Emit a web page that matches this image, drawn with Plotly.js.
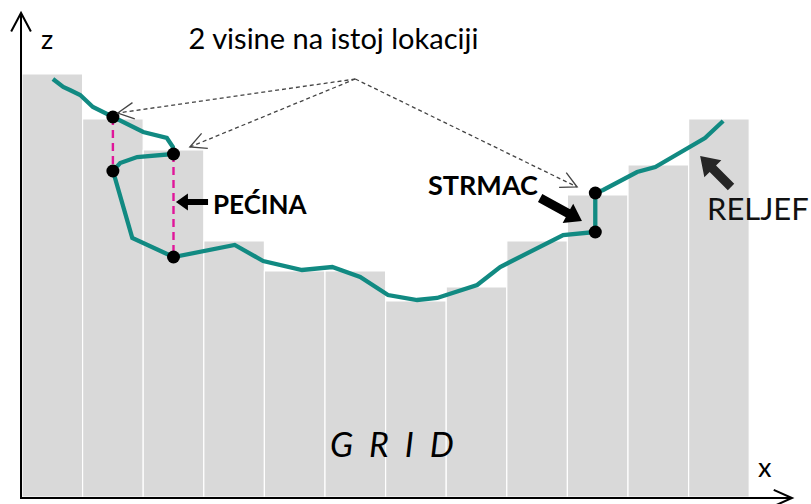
<!DOCTYPE html>
<html><head><meta charset="utf-8">
<script src="https://cdn.plot.ly/plotly-3.0.1.min.js"></script>
<style>html,body{margin:0;padding:0;background:#fff}#chart{width:811px;height:504px}</style>
</head><body><div id="chart"></div>
<script>
// ---- data (grid columns, units: x = cell index, z = height) ----
const gridCells   = [0.5, 1.5, 2.5, 3.5, 4.5, 5.5, 6.5, 7.5, 8.5, 9.5, 10.5, 11.5];
const gridHeights = [42.3, 37.8, 34.7, 25.6, 22.6, 22.6, 19.6, 21.0, 25.6, 30.2, 33.2, 37.8];

// terrain profile (relief), traced in order, including the overhang (cave) and cliff
const reliefX = [0.51, 0.68, 0.79, 0.96, 1.17, 1.50, 2.00, 2.39, 2.49, 2.50, 1.90, 1.62, 1.50, 1.53, 1.82, 2.50,
                 3.51, 3.98, 4.62, 5.12, 5.58, 6.04, 6.52, 6.85, 7.51, 7.89, 8.93, 9.46, 9.46, 9.59, 10.15, 10.45, 11.27, 11.57];
const reliefZ = [41.8, 41.0, 40.7, 40.2, 39.0, 38.0, 36.5, 35.9, 35.0, 34.3, 34.0, 33.4, 32.6, 32.0, 25.9, 24.0,
                 25.2, 23.6, 22.7, 23.0, 22.0, 20.2, 19.7, 19.9, 21.2, 23.0, 26.2, 26.5, 30.4, 30.7, 32.5, 33.0, 35.9, 37.6];

// profile vertices marked with dots, and the pairs sharing one location (cave)
const markedIdx = [5, 9, 12, 15, 27, 28];
const caveTop    = [5, 9];
const caveBottom = [12, 15];

// labels
const titleText  = '2 visine na istoj lokaciji';
const caveLabel  = 'PEĆINA';
const cliffLabel = 'STRMAC';
const reliefLabel = 'RELJEF';
const gridLabel  = 'G  R  I  D';
const zLabel = 'z';
const xLabel = 'x';

// ---- layout geometry ----
const W = 811, H = 504;
const M = {l: 22, r: 19, t: 13, b: 7};
const PW = W - M.l - M.r, PH = H - M.t - M.b;
const xMax = 12.706, zMax = 48.4;
const pxU = PW / xMax, pxZ = PH / zMax;
const toPx = (u, z) => [M.l + u * pxU, M.t + (zMax - z) * pxZ];
const pxToPaper = (p) => [(p[0] - M.l) / PW, (H - M.b - p[1]) / PH];
const fmt = (p) => { const q = pxToPaper(p); return q[0].toFixed(5) + ',' + q[1].toFixed(5); };

function chevron(tip, from, len, angDeg) {
  const a = toPx(tip[0], tip[1]), b = toPx(from[0], from[1]);
  let dx = b[0] - a[0], dy = b[1] - a[1]; const n = Math.hypot(dx, dy); dx /= n; dy /= n;
  const t = angDeg * Math.PI / 180;
  const r = (c, s) => [a[0] + len * (dx * c - dy * s), a[1] + len * (dx * s + dy * c)];
  const p1 = r(Math.cos(t), Math.sin(t)), p2 = r(Math.cos(t), -Math.sin(t));
  return 'M' + fmt(p1) + 'L' + fmt(a) + 'L' + fmt(p2);
}
function thickArrow(tip, tail, shaftW, headL, headW) {
  const a = toPx(tip[0], tip[1]), b = toPx(tail[0], tail[1]);
  let dx = a[0] - b[0], dy = a[1] - b[1]; const n = Math.hypot(dx, dy); dx /= n; dy /= n;
  const nx = -dy, ny = dx;
  const base = [a[0] - dx * headL, a[1] - dy * headL];
  const P = (p, k) => [p[0] + nx * k, p[1] + ny * k];
  const pts = [P(b, shaftW / 2), P(base, shaftW / 2), P(base, headW / 2), a, P(base, -headW / 2), P(base, -shaftW / 2), P(b, -shaftW / 2)];
  return 'M' + pts.map(fmt).join('L') + 'Z';
}
function pLine(from, to) {
  const a = pxToPaper(toPx(from[0], from[1])), b = pxToPaper(toPx(to[0], to[1]));
  return {type: 'line', xref: 'paper', yref: 'paper', x0: a[0], y0: a[1], x1: b[0], y1: b[1],
          line: {color: '#444444', width: 1.3, dash: '4px,3px'}};
}

// annotation anchors (data units)
const pointerFrom = [5.50, 41.8];
const pointerTips = [[1.58, 38.4], [2.77, 35.0], [9.16, 31.0]];

const traces = [
  {type: 'bar', x: gridCells, y: gridHeights, width: 1,
   marker: {color: '#d9d9d9', line: {color: '#ffffff', width: 1.2}}, hoverinfo: 'skip'},
];
caveTop.forEach((ti, k) => {
  const bi = caveBottom[k];
  traces.push({type: 'scatter', mode: 'lines', x: [reliefX[ti], reliefX[bi]], y: [reliefZ[ti], reliefZ[bi]],
    line: {color: '#e0169a', width: 2.4, dash: '8px,5px'}, hoverinfo: 'skip'});
});
traces.push({type: 'scatter', mode: 'lines', x: reliefX, y: reliefZ,
  line: {color: '#118a82', width: 4.3}, hoverinfo: 'skip'});
traces.push({type: 'scatter', mode: 'markers', x: markedIdx.map(i => reliefX[i]), y: markedIdx.map(i => reliefZ[i]),
  marker: {color: '#000', size: 13}, hoverinfo: 'skip'});

const shapes = [];
pointerTips.forEach(t => {
  shapes.push(pLine(pointerFrom, t));
  shapes.push({type: 'path', xref: 'paper', yref: 'paper', path: chevron(t, pointerFrom, 18, 27),
    line: {color: '#444444', width: 1.3}});
});
// axis arrowheads
shapes.push({type: 'path', xref: 'paper', yref: 'paper', path: chevron([-0.016, zMax + 0.0], [-0.016, 0], 21, 28),
  line: {color: '#000', width: 2}});
shapes.push({type: 'path', xref: 'paper', yref: 'paper', path: chevron([xMax, -0.1], [0, -0.1], 20, 24),
  line: {color: '#000', width: 2}});
// thick black arrows
shapes.push({type: 'path', xref: 'paper', yref: 'paper', path: thickArrow([2.54, 29.5], [3.07, 29.5], 6, 12, 17),
  fillcolor: '#000', line: {width: 0}});
shapes.push({type: 'path', xref: 'paper', yref: 'paper', path: thickArrow([9.24, 27.6], [8.55, 29.9], 9, 16, 22),
  fillcolor: '#000', line: {width: 0}});
shapes.push({type: 'path', xref: 'paper', yref: 'paper', path: thickArrow([11.19, 34.1], [11.70, 31.0], 9, 18, 24),
  fillcolor: '#262626', line: {width: 0}});

const F = 'Lato, "Open Sans", sans-serif';
const ann = (x, y, text, size, extra) => Object.assign({x, y, xref: 'x', yref: 'y', text, showarrow: false,
  xanchor: 'center', yanchor: 'middle', font: {family: F, size, color: '#000'}}, extra || {});
const annotations = [
  ann(0.41, 45.9, zLabel, 27),
  ann(12.26, 3.1, xLabel, 27),
  ann(3.93, 29.3, '<b>' + caveLabel + '</b>', 26),
  ann(7.61, 31.3, '<b>' + cliffLabel + '</b>', 27),
  ann(12.15, 28.9, reliefLabel, 31, {font: {family: F, size: 31, color: '#111'}}),
  ann(6.11, 5.4, '<i>' + gridLabel + '</i>', 34),
];

const layout = {
  width: W, height: H, margin: M, paper_bgcolor: '#fff', plot_bgcolor: '#fff', showlegend: false, bargap: 0,
  title: {text: titleText, font: {family: F, size: 29, color: '#000'}, x: 333.5 / W, xref: 'paper', xanchor: 'center',
          y: 1 - 39 / H, yref: 'container', yanchor: 'middle'},
  xaxis: {range: [0, xMax], showgrid: false, zeroline: false, showticklabels: false, ticks: '',
          showline: true, linecolor: '#000', linewidth: 2, fixedrange: true},
  yaxis: {range: [0, zMax], showgrid: false, zeroline: false, showticklabels: false, ticks: '',
          showline: true, linecolor: '#000', linewidth: 2, fixedrange: true},
  shapes, annotations
};
layout.title.x = (333.5 - M.l) / PW;
Plotly.newPlot('chart', traces, layout, {displayModeBar: false, staticPlot: true});
</script></body></html>
